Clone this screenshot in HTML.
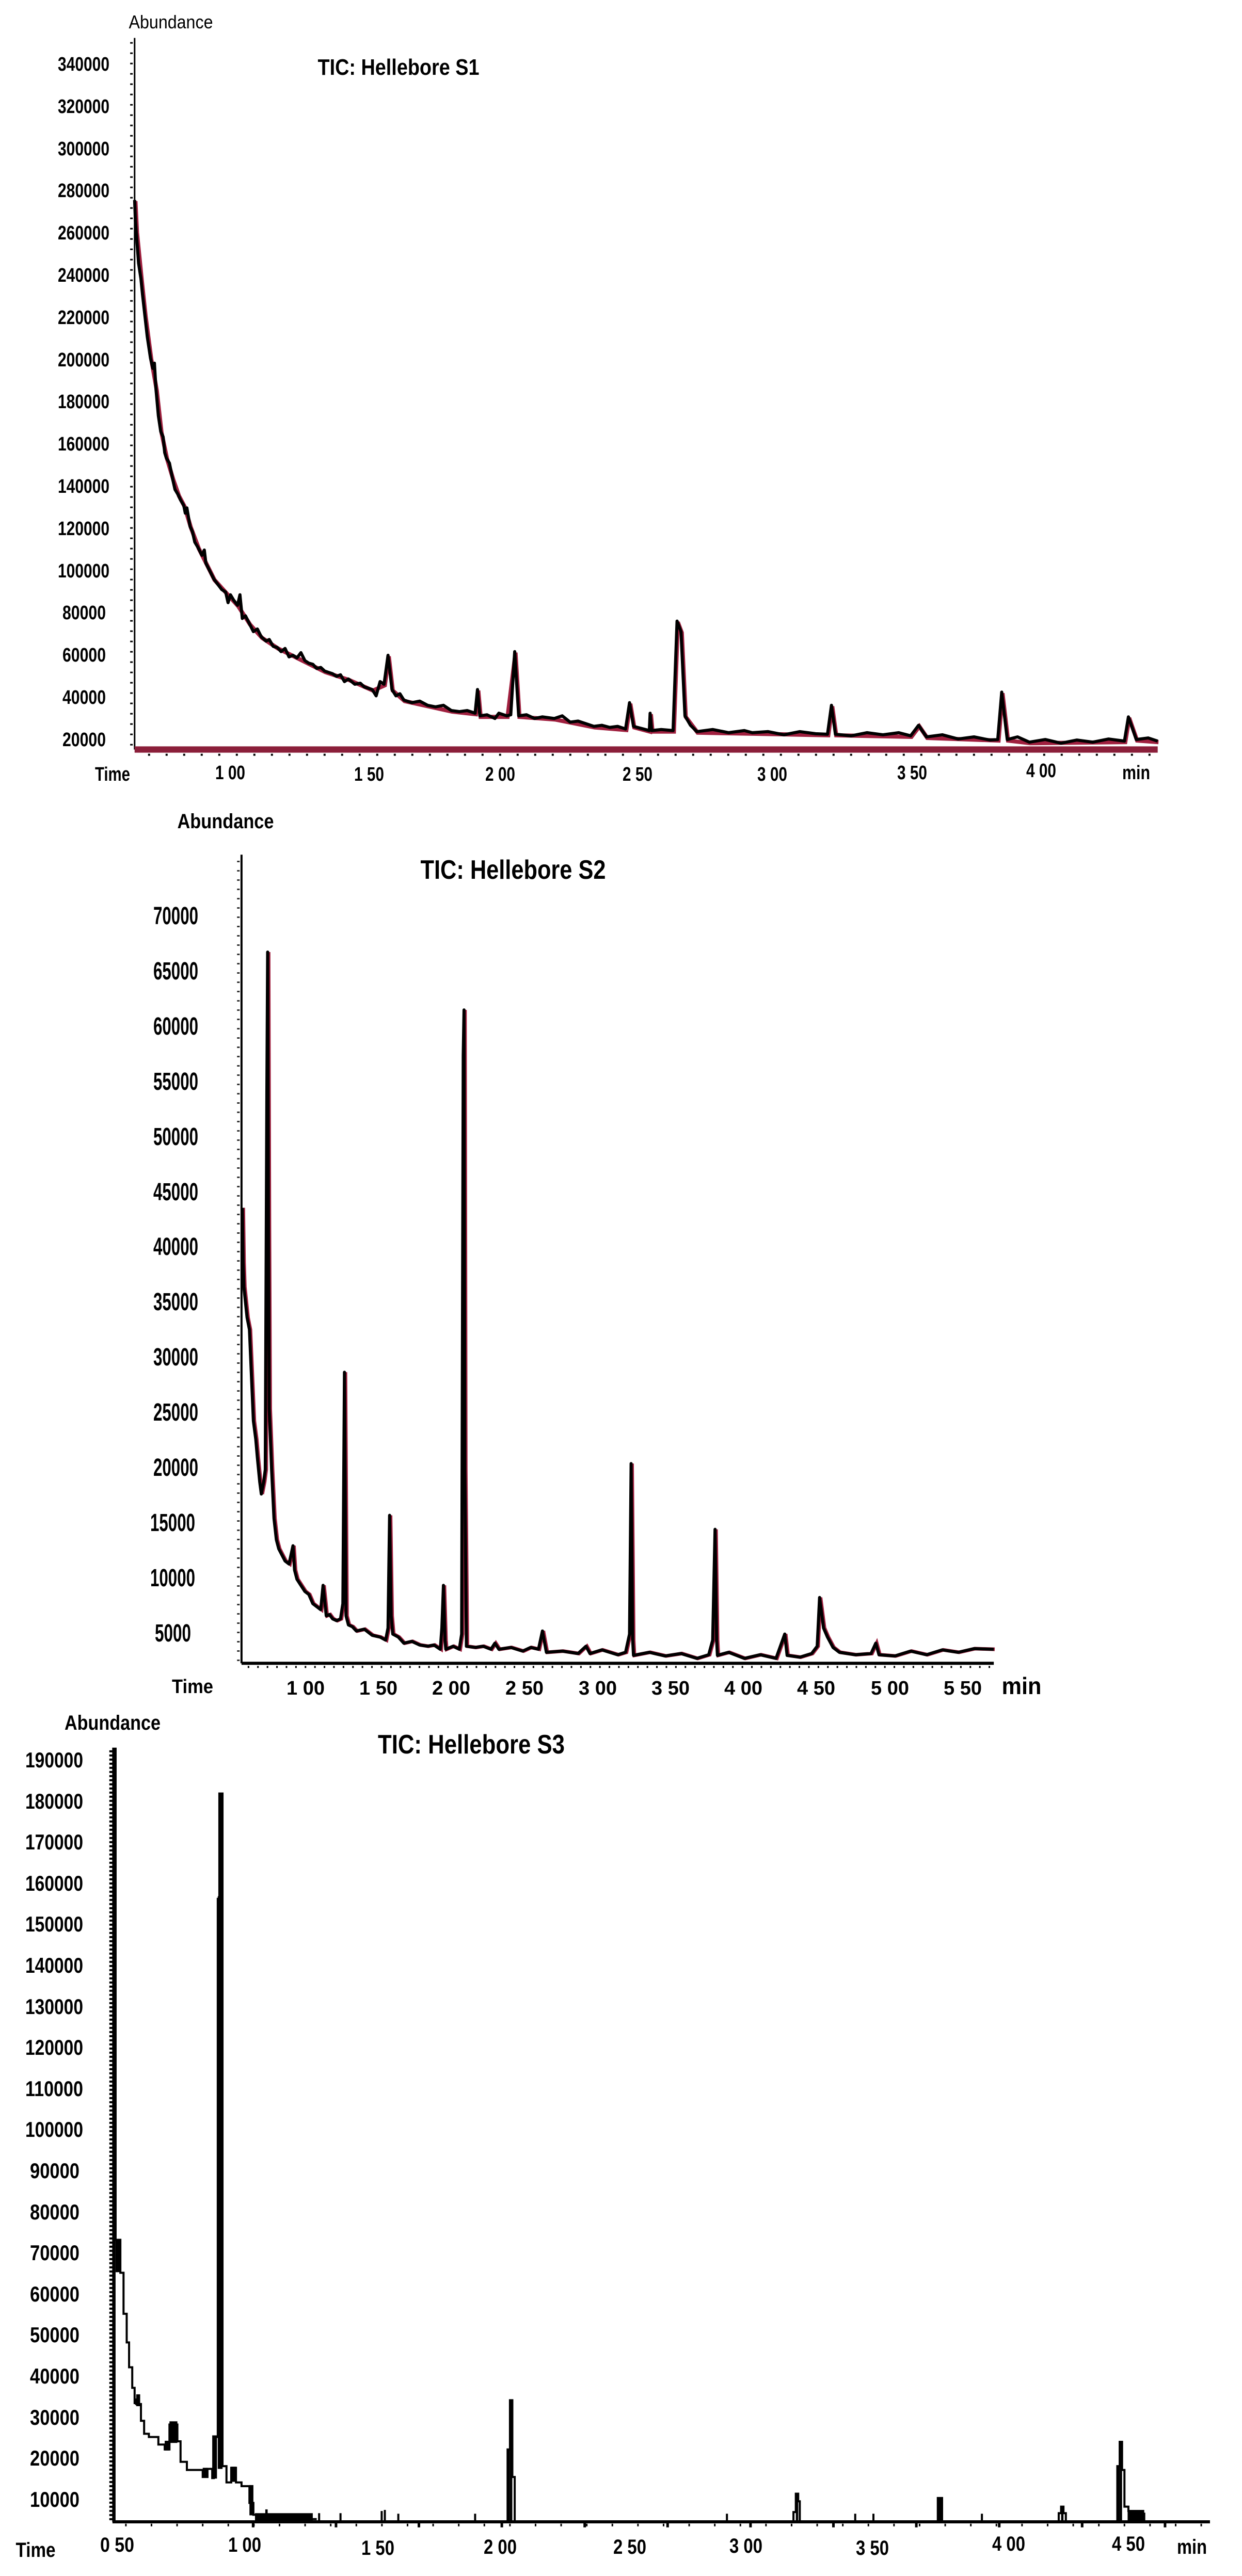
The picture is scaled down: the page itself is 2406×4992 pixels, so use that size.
<!DOCTYPE html>
<html><head><meta charset="utf-8"><style>
html,body{margin:0;padding:0;background:#fff;}
svg{display:block;}
text{font-family:"Liberation Sans",Arial,sans-serif;fill:#000;}
</style></head><body>
<svg width="2406" height="4992" viewBox="0 0 2406 4992" xmlns="http://www.w3.org/2000/svg">
<rect width="2406" height="4992" fill="#fff"/>

<!-- ================= CHART 1 ================= -->
<g transform="translate(0,0) scale(1.534,1.02)">
  <line x1="170" y1="72" x2="170" y2="1424" stroke="#000" stroke-width="3" vector-effect="non-scaling-stroke"/>
  <line x1="166" y1="80" x2="166" y2="1424" stroke="#000" stroke-width="5" stroke-dasharray="3 17" vector-effect="non-scaling-stroke"/>
  <rect x="170" y="1418" width="1292" height="12" fill="#8b1f3a"/>
  <line x1="170" y1="1430" x2="1462" y2="1430" stroke="#000" stroke-width="4" stroke-dasharray="4 30" stroke-dashoffset="-26" vector-effect="non-scaling-stroke" transform="translate(0,4)"/>
  <polyline fill="none" stroke="#a0203f" stroke-width="8" vector-effect="non-scaling-stroke" transform="translate(1,2)" points="170,380 172,440 178,530 183,600 190,680 197,740 203,820 210,870 218,910 225,940 232,960 240,1000 250,1040 260,1070 270,1100 285,1125 300,1150 315,1185 330,1210 350,1230 370,1245 390,1260 410,1275 440,1290 470,1310 485,1300 490,1245 495,1310 510,1330 540,1340 570,1350 600,1355 603,1310 606,1360 640,1360 650,1238 655,1360 700,1365 750,1380 790,1385 795,1335 800,1380 820,1388 821,1355 823,1388 850,1388 855,1180 860,1200 865,1360 880,1390 950,1392 1045,1395 1050,1340 1055,1395 1150,1398 1160,1378 1170,1400 1260,1405 1265,1315 1272,1405 1300,1410 1420,1408 1425,1362 1435,1405 1462,1408"/>
  <polyline fill="none" stroke="#000" stroke-width="6" stroke-linejoin="round" vector-effect="non-scaling-stroke" points="170,380 171,420 172,440 175,500 178,530 180,560 183,600 186,640 188,660 190,680 193,700 195,690 197,740 200,790 203,820 206,830 208,860 210,870 214,880 218,910 221,930 225,940 228,950 232,960 234,975 236,965 240,1000 243,1010 246,1030 250,1040 255,1055 258,1045 260,1070 265,1085 270,1100 275,1110 280,1120 285,1125 288,1145 291,1130 295,1140 300,1150 303,1130 306,1175 310,1170 315,1185 320,1200 325,1195 330,1210 336,1218 340,1215 345,1228 350,1230 355,1238 360,1232 365,1248 370,1245 375,1250 380,1240 385,1255 390,1260 395,1262 400,1270 405,1268 410,1275 420,1280 425,1285 430,1282 435,1295 440,1290 448,1300 455,1298 460,1305 470,1310 475,1322 480,1295 485,1300 490,1245 495,1310 500,1322 505,1318 510,1330 520,1335 530,1332 540,1340 550,1343 560,1340 570,1350 580,1352 590,1350 600,1355 603,1310 606,1360 615,1358 625,1365 630,1355 640,1360 645,1358 650,1238 655,1360 665,1358 675,1365 685,1362 700,1365 710,1360 720,1372 730,1370 740,1375 750,1380 760,1378 770,1382 780,1380 790,1385 795,1335 800,1380 810,1384 820,1388 821,1355 823,1388 835,1386 850,1388 855,1180 860,1200 865,1360 872,1378 880,1390 900,1386 920,1392 940,1388 950,1392 970,1390 990,1396 1010,1390 1030,1394 1045,1395 1050,1340 1055,1395 1075,1398 1095,1392 1115,1396 1135,1392 1150,1398 1160,1378 1170,1400 1190,1396 1210,1404 1230,1400 1250,1406 1260,1405 1265,1315 1272,1405 1285,1400 1300,1410 1320,1405 1340,1412 1360,1406 1380,1410 1400,1404 1420,1408 1425,1362 1435,1405 1450,1402 1462,1408"/>
</g>
<text x="331" y="55" font-size="36" text-anchor="middle" textLength="163" lengthAdjust="spacingAndGlyphs">Abundance</text>
<text x="772" y="145" font-size="44" font-weight="bold" text-anchor="middle" textLength="313" lengthAdjust="spacingAndGlyphs">TIC: Hellebore S1</text>
<g font-size="38" font-weight="bold" text-anchor="end">
<text x="212" y="137" textLength="100" lengthAdjust="spacingAndGlyphs">340000</text>
<text x="212" y="219" textLength="100" lengthAdjust="spacingAndGlyphs">320000</text>
<text x="212" y="301" textLength="100" lengthAdjust="spacingAndGlyphs">300000</text>
<text x="212" y="382" textLength="100" lengthAdjust="spacingAndGlyphs">280000</text>
<text x="212" y="464" textLength="100" lengthAdjust="spacingAndGlyphs">260000</text>
<text x="212" y="546" textLength="100" lengthAdjust="spacingAndGlyphs">240000</text>
<text x="212" y="628" textLength="100" lengthAdjust="spacingAndGlyphs">220000</text>
<text x="212" y="710" textLength="100" lengthAdjust="spacingAndGlyphs">200000</text>
<text x="212" y="791" textLength="100" lengthAdjust="spacingAndGlyphs">180000</text>
<text x="212" y="873" textLength="100" lengthAdjust="spacingAndGlyphs">160000</text>
<text x="212" y="955" textLength="100" lengthAdjust="spacingAndGlyphs">140000</text>
<text x="212" y="1037" textLength="100" lengthAdjust="spacingAndGlyphs">120000</text>
<text x="212" y="1119" textLength="100" lengthAdjust="spacingAndGlyphs">100000</text>
<text x="205" y="1200" textLength="84" lengthAdjust="spacingAndGlyphs">80000</text>
<text x="205" y="1282" textLength="84" lengthAdjust="spacingAndGlyphs">60000</text>
<text x="205" y="1364" textLength="84" lengthAdjust="spacingAndGlyphs">40000</text>
<text x="205" y="1446" textLength="84" lengthAdjust="spacingAndGlyphs">20000</text>
</g>
<g font-size="38" font-weight="bold" text-anchor="middle">
<text x="218" y="1513" textLength="68" lengthAdjust="spacingAndGlyphs">Time</text>
<text x="446" y="1510" textLength="58" lengthAdjust="spacingAndGlyphs">1 00</text>
<text x="715" y="1513" textLength="58" lengthAdjust="spacingAndGlyphs">1 50</text>
<text x="969" y="1513" textLength="58" lengthAdjust="spacingAndGlyphs">2 00</text>
<text x="1235" y="1513" textLength="58" lengthAdjust="spacingAndGlyphs">2 50</text>
<text x="1496" y="1513" textLength="58" lengthAdjust="spacingAndGlyphs">3 00</text>
<text x="1767" y="1510" textLength="58" lengthAdjust="spacingAndGlyphs">3 50</text>
<text x="2017" y="1506" textLength="58" lengthAdjust="spacingAndGlyphs">4 00</text>
<text x="2201" y="1510" textLength="54" lengthAdjust="spacingAndGlyphs">min</text>
</g>

<!-- ================= CHART 2 ================= -->
<g transform="translate(0,1550) scale(1.534,1.18)">
  <line x1="305" y1="90" x2="305" y2="1418" stroke="#000" stroke-width="4" vector-effect="non-scaling-stroke"/>
  <line x1="301" y1="100" x2="301" y2="1418" stroke="#333" stroke-width="5" stroke-dasharray="3 15" vector-effect="non-scaling-stroke"/>
  <line x1="305" y1="1418" x2="1255" y2="1418" stroke="#000" stroke-width="6" vector-effect="non-scaling-stroke"/>
  <line x1="305" y1="1424" x2="1255" y2="1424" stroke="#000" stroke-width="4" stroke-dasharray="3 15.4" stroke-dashoffset="-12" vector-effect="non-scaling-stroke"/>
  <polyline fill="none" stroke="#a0203f" stroke-width="7" vector-effect="non-scaling-stroke" transform="translate(1.2,0)" points="306,670 307,760 308,800 312,850 315,870 318,960 320,1020 323,1050 325,1080 328,1120 330,1140 333,1120 335,1100 337,480 338,250 339,700 340,1000 343,1100 346,1180 349,1215 352,1230 356,1240 360,1250 365,1255 370,1225 372,1265 375,1280 380,1290 385,1300 390,1305 395,1320 400,1325 405,1330 408,1290 412,1340 416,1338 420,1345 425,1348 430,1345 433,1320 435,940 437,1340 440,1355 445,1358 450,1365 460,1362 470,1372 480,1375 487,1380 490,1360 492,1175 494,1340 496,1370 503,1375 510,1385 520,1382 530,1388 540,1390 548,1388 556,1395 558,1360 560,1290 562,1380 563,1395 572,1390 580,1395 583,1370 585,420 586,345 587,1100 589,1390 600,1392 610,1390 620,1395 625,1385 630,1395 645,1392 660,1398 670,1392 680,1395 685,1365 690,1400 710,1398 730,1402 740,1390 745,1402 760,1396 780,1404 790,1400 795,1370 797,1090 799,1380 800,1405 820,1400 840,1406 860,1402 880,1410 895,1404 900,1380 903,1198 905,1380 906,1405 920,1400 940,1410 960,1404 980,1410 991,1370 994,1405 1010,1408 1025,1402 1032,1390 1035,1310 1040,1360 1045,1375 1052,1392 1060,1400 1080,1404 1100,1402 1106,1385 1110,1404 1130,1406 1150,1398 1170,1404 1190,1396 1210,1400 1230,1394 1255,1395"/>
  <polyline fill="none" stroke="#000" stroke-width="6" stroke-linejoin="round" vector-effect="non-scaling-stroke" points="306,670 307,760 308,800 312,850 315,870 318,960 320,1020 323,1050 325,1080 328,1120 330,1140 333,1120 335,1100 337,480 338,250 339,700 340,1000 343,1100 346,1180 349,1215 352,1230 356,1240 360,1250 365,1255 370,1225 372,1265 375,1280 380,1290 385,1300 390,1305 395,1320 400,1325 405,1330 408,1290 412,1340 416,1338 420,1345 425,1348 430,1345 433,1320 435,940 437,1340 440,1355 445,1358 450,1365 460,1362 470,1372 480,1375 487,1380 490,1360 492,1175 494,1340 496,1370 503,1375 510,1385 520,1382 530,1388 540,1390 548,1388 556,1395 558,1360 560,1290 562,1380 563,1395 572,1390 580,1395 583,1370 585,420 586,345 587,1100 589,1390 600,1392 610,1390 620,1395 625,1385 630,1395 645,1392 660,1398 670,1392 680,1395 685,1365 690,1400 710,1398 730,1402 740,1390 745,1402 760,1396 780,1404 790,1400 795,1370 797,1090 799,1380 800,1405 820,1400 840,1406 860,1402 880,1410 895,1404 900,1380 903,1198 905,1380 906,1405 920,1400 940,1410 960,1404 980,1410 991,1370 994,1405 1010,1408 1025,1402 1032,1390 1035,1310 1040,1360 1045,1375 1052,1392 1060,1400 1080,1404 1100,1402 1106,1385 1110,1404 1130,1406 1150,1398 1170,1404 1190,1396 1210,1400 1230,1394 1255,1395"/>
</g>
<text x="437" y="1605" font-size="40" font-weight="bold" text-anchor="middle" textLength="187" lengthAdjust="spacingAndGlyphs">Abundance</text>
<text x="994" y="1703" font-size="52" font-weight="bold" text-anchor="middle" textLength="359" lengthAdjust="spacingAndGlyphs">TIC: Hellebore S2</text>
<g font-size="48" font-weight="bold" text-anchor="end">
<text x="384" y="1791" textLength="87" lengthAdjust="spacingAndGlyphs">70000</text>
<text x="384" y="1898" textLength="87" lengthAdjust="spacingAndGlyphs">65000</text>
<text x="384" y="2005" textLength="87" lengthAdjust="spacingAndGlyphs">60000</text>
<text x="384" y="2112" textLength="87" lengthAdjust="spacingAndGlyphs">55000</text>
<text x="384" y="2219" textLength="87" lengthAdjust="spacingAndGlyphs">50000</text>
<text x="384" y="2326" textLength="87" lengthAdjust="spacingAndGlyphs">45000</text>
<text x="384" y="2432" textLength="87" lengthAdjust="spacingAndGlyphs">40000</text>
<text x="384" y="2539" textLength="87" lengthAdjust="spacingAndGlyphs">35000</text>
<text x="384" y="2646" textLength="87" lengthAdjust="spacingAndGlyphs">30000</text>
<text x="384" y="2753" textLength="87" lengthAdjust="spacingAndGlyphs">25000</text>
<text x="384" y="2860" textLength="87" lengthAdjust="spacingAndGlyphs">20000</text>
<text x="378" y="2967" textLength="87" lengthAdjust="spacingAndGlyphs">15000</text>
<text x="378" y="3074" textLength="87" lengthAdjust="spacingAndGlyphs">10000</text>
<text x="370" y="3181" textLength="70" lengthAdjust="spacingAndGlyphs">5000</text>
</g>
<g font-size="38" font-weight="bold" text-anchor="middle">
<text x="373" y="3281" textLength="80" lengthAdjust="spacingAndGlyphs">Time</text>
<text x="592" y="3284">1 00</text>
<text x="733" y="3284">1 50</text>
<text x="874" y="3284">2 00</text>
<text x="1016" y="3284">2 50</text>
<text x="1158" y="3284">3 00</text>
<text x="1299" y="3284">3 50</text>
<text x="1440" y="3284">4 00</text>
<text x="1581" y="3284">4 50</text>
<text x="1724" y="3284">5 00</text>
<text x="1865" y="3284">5 50</text>
</g>
<text x="1979" y="3283" font-size="46" font-weight="bold" text-anchor="middle" textLength="77" lengthAdjust="spacingAndGlyphs">min</text>

<!-- ================= CHART 3 ================= -->
<g transform="translate(0,3350) scale(1.534,1.047)">
  <line x1="144" y1="36" x2="144" y2="1468" stroke="#000" stroke-width="6" vector-effect="non-scaling-stroke"/>
  <line x1="140" y1="40" x2="140" y2="1468" stroke="#000" stroke-width="6" stroke-dasharray="4 4" vector-effect="non-scaling-stroke"/>
  <line x1="142" y1="1468" x2="1528" y2="1468" stroke="#000" stroke-width="6" vector-effect="non-scaling-stroke"/>
  <line x1="158" y1="1474" x2="1528" y2="1474" stroke="#000" stroke-width="5" stroke-dasharray="3 46.6" vector-effect="non-scaling-stroke"/>
  <line x1="318" y1="1474" x2="1528" y2="1474" stroke="#000" stroke-width="9" stroke-dasharray="5 155.6" vector-effect="non-scaling-stroke"/>
  <path fill="none" stroke="#000" stroke-width="4" vector-effect="non-scaling-stroke" d="M143,1468 V37 H146 V946 H152 V1007 H156 V1083 H160 V1136 H163 V1182 H167 V1220 H170 V1250 L172,1240 V1250 H178 V1281 H182 V1305 H188 V1311 H200 V1325 H208 V1334 H214 V1288 H224 V1319 H228 V1357 H236 V1372 H256 V1385 H262 V1370 H268 V1387 H270 V1311 H275 V315 H277 V120 H281 V1365 H286 V1395 H292 V1368 H298 V1395 H305 V1402 H315 V1433 H320 V1455 H325 V1463 H400"/>
  <rect x="146" y="946" width="6" height="60" fill="#000"/>
  <rect x="172" y="1232" width="5" height="22" fill="#000"/>
  <rect x="214" y="1282" width="10" height="40" fill="#000"/>
  <rect x="208" y="1318" width="6" height="18" fill="#000"/>
  <rect x="256" y="1368" width="6" height="18" fill="#000"/>
  <rect x="268" y="1308" width="6" height="80" fill="#000"/>
  <rect x="275" y="310" width="6" height="1060" fill="#000"/>
  <rect x="277" y="120" width="4" height="1250" fill="#000"/>
  <rect x="292" y="1366" width="6" height="28" fill="#000"/>
  <rect x="315" y="1400" width="5" height="56" fill="#000"/>
  <rect x="322" y="1452" width="73" height="16" fill="#000"/>
  <rect x="335" y="1445" width="3" height="10" fill="#000"/>
  <g stroke="#000" stroke-width="4" fill="none">
    <line x1="403" y1="1468" x2="403" y2="1452" vector-effect="non-scaling-stroke"/>
    <line x1="430" y1="1468" x2="430" y2="1452" vector-effect="non-scaling-stroke"/>
    <line x1="482" y1="1468" x2="482" y2="1448" vector-effect="non-scaling-stroke"/>
    <line x1="486" y1="1468" x2="486" y2="1446" vector-effect="non-scaling-stroke"/>
    <line x1="503" y1="1468" x2="503" y2="1453" vector-effect="non-scaling-stroke"/>
    <line x1="600" y1="1468" x2="600" y2="1453" vector-effect="non-scaling-stroke"/>
    <line x1="918" y1="1468" x2="918" y2="1453" vector-effect="non-scaling-stroke"/>
    <line x1="1080" y1="1468" x2="1080" y2="1453" vector-effect="non-scaling-stroke"/>
    <line x1="1103" y1="1468" x2="1103" y2="1453" vector-effect="non-scaling-stroke"/>
    <line x1="1240" y1="1468" x2="1240" y2="1453" vector-effect="non-scaling-stroke"/>
  </g>
  <path fill="none" stroke="#000" stroke-width="4" vector-effect="non-scaling-stroke" d="M641,1468 V1334 H644 V1243 H647 V1385 H650 V1468"/>
  <rect x="641" y="1334" width="3" height="134" fill="#000"/>
  <rect x="644" y="1243" width="3" height="225" fill="#000"/>
  <path fill="none" stroke="#000" stroke-width="4" vector-effect="non-scaling-stroke" d="M1002,1468 V1450 H1005 V1416 H1008 V1430 H1010 V1468"/>
  <rect x="1005" y="1416" width="3" height="52" fill="#000"/>
  <rect x="1183" y="1422" width="8" height="46" fill="#000"/>
  <path fill="none" stroke="#000" stroke-width="4" vector-effect="non-scaling-stroke" d="M1337,1468 V1452 H1340 V1440 H1343 V1452 H1346 V1468"/>
  <rect x="1340" y="1440" width="3" height="28" fill="#000"/>
  <path fill="none" stroke="#000" stroke-width="4" vector-effect="non-scaling-stroke" d="M1411,1468 V1365 H1414 V1320 H1417 V1372 H1420 V1440 H1425 V1448 H1432 V1453 H1445 V1468"/>
  <rect x="1411" y="1365" width="3" height="103" fill="#000"/>
  <rect x="1414" y="1320" width="3" height="148" fill="#000"/>
  <rect x="1424" y="1446" width="21" height="22" fill="#000"/>
</g>
<text x="218" y="3352" font-size="40" font-weight="bold" text-anchor="middle" textLength="186" lengthAdjust="spacingAndGlyphs">Abundance</text>
<text x="913" y="3398" font-size="52" font-weight="bold" text-anchor="middle" textLength="362" lengthAdjust="spacingAndGlyphs">TIC: Hellebore S3</text>
<g font-size="42" font-weight="bold" text-anchor="end">
<text x="161" y="3425" textLength="112" lengthAdjust="spacingAndGlyphs">190000</text>
<text x="161" y="3505" textLength="112" lengthAdjust="spacingAndGlyphs">180000</text>
<text x="161" y="3584" textLength="112" lengthAdjust="spacingAndGlyphs">170000</text>
<text x="161" y="3664" textLength="112" lengthAdjust="spacingAndGlyphs">160000</text>
<text x="161" y="3743" textLength="112" lengthAdjust="spacingAndGlyphs">150000</text>
<text x="161" y="3823" textLength="112" lengthAdjust="spacingAndGlyphs">140000</text>
<text x="161" y="3903" textLength="112" lengthAdjust="spacingAndGlyphs">130000</text>
<text x="161" y="3982" textLength="112" lengthAdjust="spacingAndGlyphs">120000</text>
<text x="161" y="4062" textLength="112" lengthAdjust="spacingAndGlyphs">110000</text>
<text x="161" y="4141" textLength="112" lengthAdjust="spacingAndGlyphs">100000</text>
<text x="154" y="4221" textLength="96" lengthAdjust="spacingAndGlyphs">90000</text>
<text x="154" y="4301" textLength="96" lengthAdjust="spacingAndGlyphs">80000</text>
<text x="154" y="4380" textLength="96" lengthAdjust="spacingAndGlyphs">70000</text>
<text x="154" y="4460" textLength="96" lengthAdjust="spacingAndGlyphs">60000</text>
<text x="154" y="4539" textLength="96" lengthAdjust="spacingAndGlyphs">50000</text>
<text x="154" y="4619" textLength="96" lengthAdjust="spacingAndGlyphs">40000</text>
<text x="154" y="4699" textLength="96" lengthAdjust="spacingAndGlyphs">30000</text>
<text x="154" y="4778" textLength="96" lengthAdjust="spacingAndGlyphs">20000</text>
<text x="154" y="4858" textLength="96" lengthAdjust="spacingAndGlyphs">10000</text>
</g>
<g font-size="40" font-weight="bold" text-anchor="middle">
<text x="69" y="4955" textLength="77" lengthAdjust="spacingAndGlyphs">Time</text>
<text x="227" y="4945" textLength="66" lengthAdjust="spacingAndGlyphs">0 50</text>
<text x="474" y="4945" textLength="64" lengthAdjust="spacingAndGlyphs">1 00</text>
<text x="732" y="4951" textLength="64" lengthAdjust="spacingAndGlyphs">1 50</text>
<text x="969" y="4949" textLength="64" lengthAdjust="spacingAndGlyphs">2 00</text>
<text x="1220" y="4949" textLength="64" lengthAdjust="spacingAndGlyphs">2 50</text>
<text x="1445" y="4947" textLength="64" lengthAdjust="spacingAndGlyphs">3 00</text>
<text x="1690" y="4951" textLength="64" lengthAdjust="spacingAndGlyphs">3 50</text>
<text x="1954" y="4943" textLength="64" lengthAdjust="spacingAndGlyphs">4 00</text>
<text x="2186" y="4943" textLength="64" lengthAdjust="spacingAndGlyphs">4 50</text>
<text x="2309" y="4949" textLength="58" lengthAdjust="spacingAndGlyphs">min</text>
</g>
</svg>
</body></html>
